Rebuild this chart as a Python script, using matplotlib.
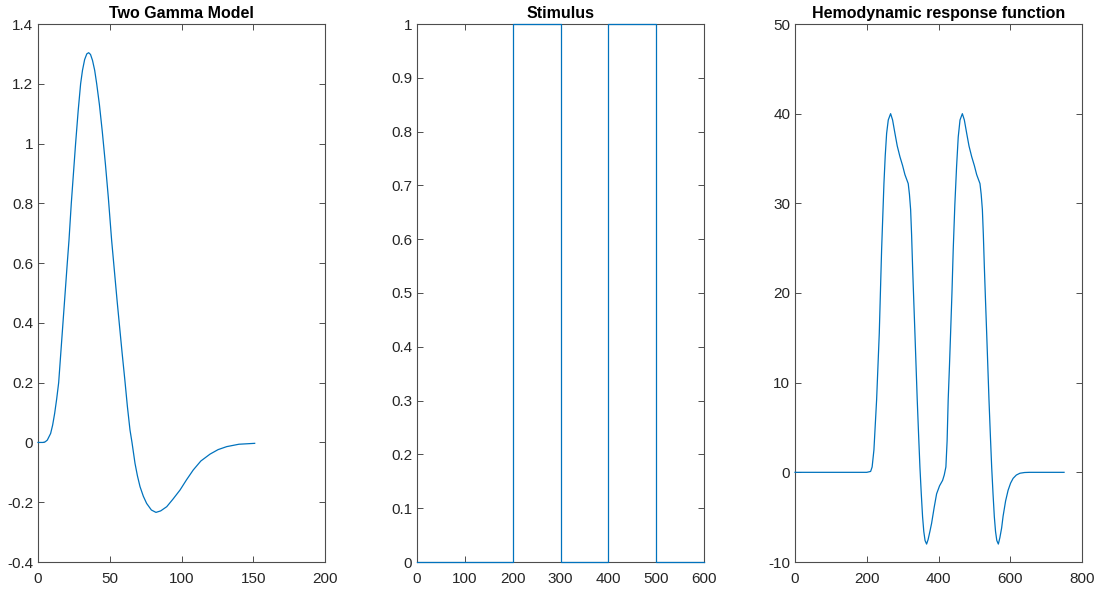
import matplotlib
matplotlib.use("Agg")
import matplotlib.pyplot as plt
from matplotlib.ticker import FuncFormatter, MultipleLocator

# ---- Data ----
gamma_x = [0, 3.5, 5, 6.5, 8.8, 10.2, 11.6, 13, 14.4, 15.9, 17.4, 18.9, 20.4, 21.6, 23.2,
           24.7, 26.2, 28, 29.7, 31, 32.5, 34, 35.3, 36.6, 38, 39.5, 40.9, 42.8, 44.8, 47,
           49, 51.3, 53.5, 55.2, 56.8, 58.6, 60.5, 62.3, 64.1, 65.5, 67.6, 69.3, 71.1, 73.4,
           75.7, 79, 82.2, 85.5, 89.7, 94, 99, 103.5, 108.2, 113.5, 119.9, 125.5, 131.5,
           140, 151]
gamma_y = [0, 0, 0.002, 0.008, 0.03, 0.058, 0.097, 0.145, 0.2, 0.3, 0.4, 0.5, 0.6, 0.677,
           0.8, 0.9, 1.0, 1.11, 1.2, 1.245, 1.281, 1.3, 1.304, 1.298, 1.278, 1.245, 1.2,
           1.13, 1.04, 0.93, 0.82, 0.677, 0.56, 0.47, 0.39, 0.3, 0.21, 0.12, 0.042, 0.0,
           -0.07, -0.112, -0.148, -0.18, -0.204, -0.226, -0.234, -0.229, -0.215, -0.19,
           -0.159, -0.125, -0.092, -0.062, -0.039, -0.024, -0.014, -0.006, -0.003]

stim_x = [0, 200, 200, 300, 300, 400, 400, 500, 500, 600]
stim_y = [0, 0, 1, 1, 0, 0, 1, 1, 0, 0]

hrf_x = [0, 200, 210.8, 215, 220, 227.5, 234.9, 241.4, 247.9, 251.5, 255.4, 260, 266.5,
         272, 278.6, 285, 292.5, 300, 306.4, 311, 315.6, 319, 322.3, 325, 327.8, 331,
         334.3, 337.5, 340.7, 344.5, 348.2, 352, 355.6, 359, 362.5, 366.8, 371, 376,
         380.7, 388, 394.7, 403, 411.4, 416, 420.6, 424, 427, 430.5, 433.7, 437.5, 441,
         445.5, 450.4, 455, 460, 466.5, 472, 478.6, 485, 492.5, 500, 506.4, 511, 515.6,
         519, 522.3, 525, 527.8, 531, 534.3, 537.5, 540.7, 544.5, 548.2, 552, 555.6, 559,
         562.5, 566.8, 571, 576, 580, 587, 594, 601, 608, 617, 627, 640, 654, 700, 750]
hrf_y = [0, 0, 0.1, 0.6, 2.5, 8.1, 15.5, 24.8, 32.2, 35.3, 37.8, 39.3, 40.0,
         39.3, 37.8, 36.4, 35.2, 34.2, 33.2, 32.7, 32.2, 31.0, 29.3, 26.5, 22.9, 19.2,
         15.5, 11.8, 8.1, 4.2, 0.6, -2.4, -4.95, -6.6, -7.6, -8.0, -7.5, -6.6,
         -5.7, -3.9, -2.4, -1.5, -0.9, -0.3, 0.6, 3.5, 8.1, 11.8, 15.5, 20.0, 24.8,
         29.8, 34.1, 37.4, 39.3, 40.0, 39.3, 37.8, 36.4, 35.2, 34.2, 33.2, 32.7, 32.2,
         31.0, 29.3, 26.5, 22.9, 19.2, 15.5, 11.8, 8.1, 4.2, 0.6, -2.4, -4.95, -6.6,
         -7.6, -8.0, -7.3, -6.2, -4.9, -3.2, -2.0, -1.2, -0.67, -0.3, -0.1, -0.02, 0, 0, 0]

titles = ["Two Gamma Model", "Stimulus", "Hemodynamic response function"]

# ---- Figure ----
plt.rcParams['font.family'] = ['Liberation Sans', 'DejaVu Sans']
W, H = 1103, 592
fig = plt.figure(figsize=(W / 100, H / 100), dpi=100)

line_color = '#0072BD'
axis_color = '#4d4d4d'
label_color = '#262626'

def fmt(v, pos):
    return f"{round(v, 6):g}"

lefts = [38, 417, 795]
width_px = 287
bottom_px = 562
top_px = 24

configs = [
    (gamma_x, gamma_y, (0, 200), 50, (-0.4, 1.4), 0.2),
    (stim_x, stim_y, (0, 600), 100, (0, 1), 0.1),
    (hrf_x, hrf_y, (0, 800), 200, (-10, 50), 10),
]

for i, (xs, ys, xl, xstep, yl, ystep) in enumerate(configs):
    ax = fig.add_axes([lefts[i] / W, (H - bottom_px) / H, width_px / W,
                       (bottom_px - top_px) / H])
    ax.plot(xs, ys, color=line_color, lw=0.9, zorder=3, clip_on=False)
    ax.set_xlim(*xl)
    ax.set_ylim(*yl)
    ax.xaxis.set_major_locator(MultipleLocator(xstep))
    ax.yaxis.set_major_locator(MultipleLocator(ystep))
    ax.xaxis.set_major_formatter(FuncFormatter(fmt))
    ax.yaxis.set_major_formatter(FuncFormatter(fmt))
    ax.tick_params(axis='both', direction='in', length=4, width=0.7,
                   colors=axis_color, labelcolor=label_color, labelsize=11,
                   top=True, right=True)
    ax.tick_params(axis='x', pad=7.5)
    ax.tick_params(axis='y', pad=3.5)
    for sp in ax.spines.values():
        sp.set_color(axis_color)
        sp.set_linewidth(0.8)
    ax.set_title(titles[i], fontsize=11.5, fontweight='bold', pad=4)

fig.savefig("out.png", dpi=100)
